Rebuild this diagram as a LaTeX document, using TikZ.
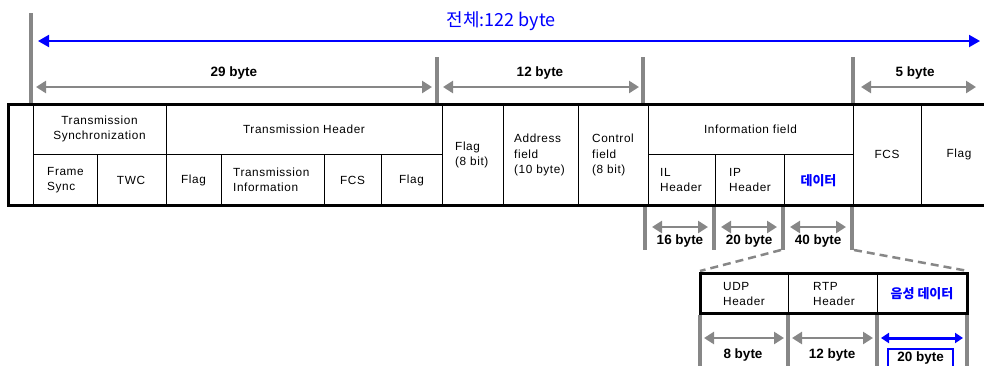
\documentclass[tikz,border=0pt]{standalone}
\usepackage{fontspec}
\setmainfont{Liberation Sans}
\newfontfamily\boxfont[LetterSpace=5]{Liberation Sans}
\newfontfamily\krfont{Noto Sans CJK KR}
\usetikzlibrary{arrows.meta}
\definecolor{tgray}{RGB}{135,135,135}
\definecolor{tblue}{RGB}{0,0,255}
\begin{document}
\begin{tikzpicture}[x=1pt,y=-1pt,
  tickline/.style={draw=tgray,line width=3.5pt},
  garrow/.style={draw=tgray,line width=2.8pt,{Triangle[length=10pt,width=12pt]}-{Triangle[length=10pt,width=12pt]}},
  barrow/.style={draw=tblue,line width=2pt,{Triangle[length=11pt,width=12pt]}-{Triangle[length=11pt,width=12pt]}},
  sarrow/.style={draw=tblue,line width=3pt,{Triangle[length=8pt,width=10pt]}-{Triangle[length=8pt,width=10pt]}},
  lbl/.style={font=\fontsize{13.5}{15}\selectfont\bfseries,inner sep=0pt},
  cell/.style={font=\boxfont\fontsize{11.8}{15}\selectfont,align=center,inner sep=0pt},
  lcell/.style={font=\boxfont\fontsize{11.8}{15.5}\selectfont,align=left,inner sep=0pt,anchor=west},
  krcell/.style={font=\krfont\fontsize{13}{15}\selectfont\bfseries,text=tblue,inner sep=0pt},
  outer/.style={draw=black,line width=3pt},
  inner/.style={draw=black,line width=1pt},
  dashline/.style={draw=tgray,line width=2.5pt,dash pattern=on 8pt off 5pt}
]
\useasboundingbox (0,0) rectangle (984,365);

% ---------- top ticks ----------
\coordinate (t0a) at (31,13);  \coordinate (t0b) at (31,103);
\coordinate (t1a) at (437,57); \coordinate (t1b) at (437,103);
\coordinate (t2a) at (643,57); \coordinate (t2b) at (643,103);
\coordinate (t3a) at (853,57); \coordinate (t3b) at (853,103);
\draw[tickline] (t0a) -- (t0b);
\draw[tickline] (t1a) -- (t1b);
\draw[tickline] (t2a) -- (t2b);
\draw[tickline] (t3a) -- (t3b);

% total arrow
\coordinate (ba) at (38,41); \coordinate (bb) at (980,41);
\draw[barrow] (ba) -- (bb);
\node[font=\krfont\fontsize{18}{20}\selectfont,text=tblue,inner sep=0pt] (total) at (501,21) {전체:122 byte};

% size arrows
\coordinate (a29a) at (36,87);  \coordinate (a29b) at (432,87);
\coordinate (a12a) at (443,87); \coordinate (a12b) at (639,87);
\coordinate (a5a) at (861,87);  \coordinate (a5b) at (976,87);
\draw[garrow] (a29a) -- (a29b);
\draw[garrow] (a12a) -- (a12b);
\draw[garrow] (a5a) -- (a5b);
\node[lbl] (l29) at (234,73) {29 byte};
\node[lbl] (l12) at (540,73) {12 byte};
\node[lbl] (l5) at (915,73) {5 byte};

% ---------- main frame ----------
\draw[inner] (33,104) -- (33,205);
\draw[inner] (166,104) -- (166,205);
\draw[inner] (442,104) -- (442,205);
\draw[inner] (503,104) -- (503,205);
\draw[inner] (578,104) -- (578,205);
\draw[inner] (648,104) -- (648,205);
\draw[inner] (853,104) -- (853,205);
\draw[inner] (921,104) -- (921,205);
\draw[inner] (33,154) -- (442,154);
\draw[inner] (648,154) -- (853,154);
\draw[inner] (97,154) -- (97,205);
\draw[inner] (221,154) -- (221,205);
\draw[inner] (324,154) -- (324,205);
\draw[inner] (381,154) -- (381,205);
\draw[inner] (715,154) -- (715,205);
\draw[inner] (784,154) -- (784,205);
\draw[outer] (992,104) -- (8,104) -- (8,205) -- (992,205);

\node[cell] (tsync) at (99.5,129) {Transmission\\Synchronization};
\node[cell] (thead) at (304,129) {Transmission Header};
\node[lcell] (fsync) at (47,180) {Frame\\Sync};
\node[cell] (twc) at (131,180) {TWC};
\node[cell] (flag1) at (193.5,180) {Flag};
\node[lcell] (tinfo) at (233,180) {Transmission\\Information};
\node[cell] (fcs1) at (352.5,180) {FCS};
\node[cell] (flag2) at (411.5,180) {Flag};
\node[lcell] (flag8) at (455,155) {Flag\\(8 bit)};
\node[lcell] (addr) at (514,155) {Address\\field\\(10 byte)};
\node[lcell] (ctrl) at (592,155) {Control\\field\\(8 bit)};
\node[cell] (info) at (750.5,129) {Information field};
\node[lcell] (il) at (660,180) {IL\\Header};
\node[lcell] (ip) at (729,180) {IP\\Header};
\node[krcell] (data) at (818.5,181) {데이터};
\node[cell] (fcs2) at (887,154) {FCS};
\node[cell] (flag3) at (959,154) {Flag};

% ---------- lower ticks ----------
\coordinate (u0a) at (645,207); \coordinate (u0b) at (645,250);
\coordinate (u1a) at (714,207); \coordinate (u1b) at (714,250);
\coordinate (u2a) at (783,207); \coordinate (u2b) at (783,250);
\coordinate (u3a) at (852,207); \coordinate (u3b) at (852,250);
\draw[tickline] (u0a) -- (u0b);
\draw[tickline] (u1a) -- (u1b);
\draw[tickline] (u2a) -- (u2b);
\draw[tickline] (u3a) -- (u3b);
\coordinate (a16a) at (652,227); \coordinate (a16b) at (708,227);
\coordinate (a20a) at (721,227); \coordinate (a20b) at (777,227);
\coordinate (a40a) at (790,227); \coordinate (a40b) at (846,227);
\draw[garrow] (a16a) -- (a16b);
\draw[garrow] (a20a) -- (a20b);
\draw[garrow] (a40a) -- (a40b);
\node[lbl] (l16) at (680,241) {16 byte};
\node[lbl] (l20) at (749,241) {20 byte};
\node[lbl] (l40) at (818,241) {40 byte};

% zoom dashes
\coordinate (dza) at (781,250); \coordinate (dzb) at (700,271);
\coordinate (dzc) at (854,250); \coordinate (dzd) at (968,271);
\draw[dashline] (dza) -- (dzb);
\draw[dashline] (dzc) -- (dzd);

% ---------- sub frame ----------
\draw[inner] (788,273) -- (788,313);
\draw[inner] (877,273) -- (877,313);
\draw[outer] (700,273) rectangle (967,313);
\node[lcell] (udp) at (723,294) {UDP\\Header};
\node[lcell] (rtp) at (813,294) {RTP\\Header};
\node[krcell] (voice) at (922,294) {음성 데이터};

\coordinate (s0a) at (700,315); \coordinate (s0b) at (700,370);
\coordinate (s1a) at (788,315); \coordinate (s1b) at (788,370);
\coordinate (s2a) at (877,315); \coordinate (s2b) at (877,370);
\coordinate (s3a) at (967,315); \coordinate (s3b) at (967,370);
\draw[tickline] (s0a) -- (s0b);
\draw[tickline] (s1a) -- (s1b);
\draw[tickline] (s2a) -- (s2b);
\draw[tickline] (s3a) -- (s3b);
\coordinate (a8a) at (704,338);  \coordinate (a8b) at (784,338);
\coordinate (a12c) at (792,338); \coordinate (a12d) at (873,338);
\coordinate (a20c) at (881,338); \coordinate (a20d) at (963,338);
\draw[garrow] (a8a) -- (a8b);
\draw[garrow] (a12c) -- (a12d);
\draw[sarrow] (a20c) -- (a20d);
\node[lbl] (l8) at (743,355) {8 byte};
\node[lbl] (l12b) at (832,355) {12 byte};
\node[lbl,draw=tblue,line width=1.5pt,minimum width=65pt,minimum height=19pt,anchor=north] (l20b) at (920.5,348) {20 byte};
\end{tikzpicture}
\end{document}
